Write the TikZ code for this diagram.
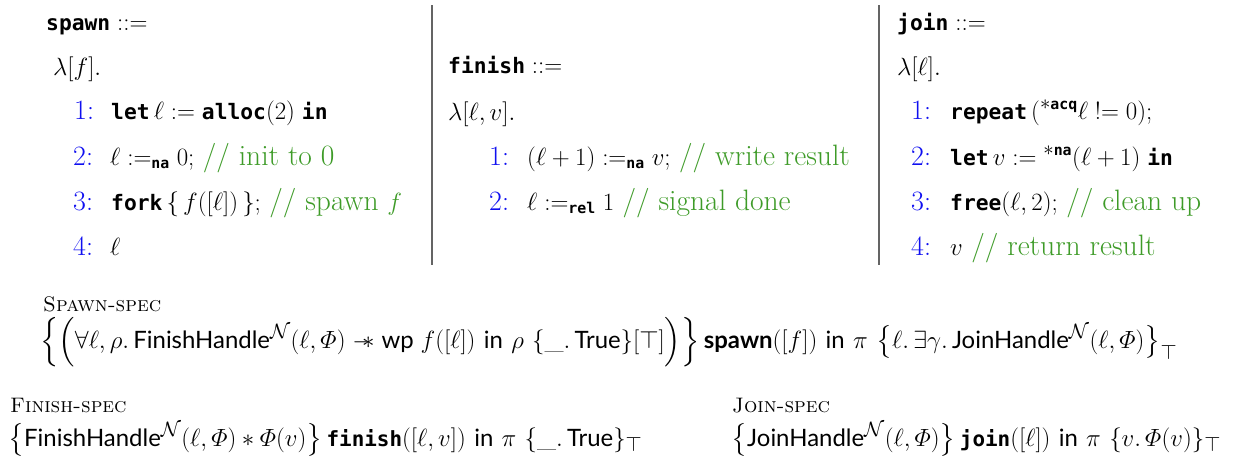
\documentclass[tikz,border=0pt]{standalone}
\usepackage{amsmath,amssymb}
\usepackage{fontspec}
\newfontfamily\kwfont{DejaVu Sans Mono}[Scale=0.76]
\newfontfamily\sffnt{Lato}[Scale=0.87]
\definecolor{cmtgreen}{RGB}{62,155,40}
\definecolor{lnblue}{RGB}{15,15,240}
\definecolor{divgray}{RGB}{100,100,100}
\newcommand\kw[1]{\text{\kwfont\bfseries #1}}
\newcommand\sfx[1]{\text{\sffnt #1}}
\newcommand\bsf[1]{\text{\sffnt\bfseries #1}}
\newcommand\cmt[1]{{\fontsize{29.5}{32}\selectfont\textcolor{cmtgreen}{//~#1}}}
\newcommand\mywand{\mathrel{-\mkern-7mu\ast}}
\begin{document}
\begin{tikzpicture}[x=1pt,y=-1pt,
  code/.style={anchor=base west, inner sep=0pt, font=\fontsize{28}{32}\selectfont},
  num/.style={code, text=lnblue},
  lbl/.style={anchor=base west, inner sep=0pt, font=\fontsize{21}{24}\selectfont},
  spec/.style={anchor=base west, inner sep=0pt, font=\fontsize{27.5}{32}\selectfont},
  divider/.style={draw=divgray, line width=1.4pt}]
\useasboundingbox (0,0) rectangle (1243,461);
% dividers
\coordinate (d1t) at (432,5); \coordinate (d1b) at (432,265);
\coordinate (d2t) at (879,5); \coordinate (d2b) at (879,265);
\draw[divider] (d1t) -- (d1b);
\draw[divider] (d2t) -- (d2b);
% spawn
\node[code] (sh) at (46,30) {$\kw{spawn} ::=$};
\node[code] (sl) at (53,75) {$\lambda[f].$};
\node[num] (s1n) at (74,119) {1:};
\node[code] (s1) at (111,119) {$\kw{let}\,\ell := \kw{alloc}(2)\;\kw{in}$};
\node[num] (s2n) at (73,165) {2:};
\node[code] (s2) at (110,165) {$\ell :=_{\kw{na}} 0;$ \cmt{init to 0}};
\node[num] (s3n) at (73,210) {3:};
\node[code] (s3) at (111,210) {$\kw{fork}\,\{\, f([\ell])\,\};$ \cmt{spawn $f$}};
\node[num] (s4n) at (73,255) {4:};
\node[code] (s4) at (110,255) {$\ell$};
% finish
\node[code] (fh) at (448,73) {$\kw{finish} ::=$};
\node[code] (fl) at (448,120) {$\lambda[\ell, v].$};
\node[num] (f1n) at (489,165) {1:};
\node[code] (f1) at (527,165) {$(\ell+1) :=_{\kw{na}} v;$ \cmt{write result}};
\node[num] (f2n) at (489,210) {2:};
\node[code] (f2) at (527,210) {$\ell :=_{\kw{rel}} 1$ \cmt{signal done}};
% join
\node[code] (jh) at (897,30) {$\kw{join} ::=$};
\node[code] (jl) at (897,75) {$\lambda[\ell].$};
\node[num] (j1n) at (911,119) {1:};
\node[code] (j1) at (950,119) {$\kw{repeat}\,({}^{\ast\kw{acq}}\ell \mathrel{!{=}} 0);$};
\node[num] (j2n) at (911,165) {2:};
\node[code] (j2) at (950,165) {$\kw{let}\,v := {}^{\ast\kw{na}}(\ell+1)\;\kw{in}$};
\node[num] (j3n) at (911,210) {3:};
\node[code] (j3) at (950,210) {$\kw{free}(\ell, 2);$ \cmt{clean up}};
\node[num] (j4n) at (911,255) {4:};
\node[code] (j4) at (950,255) {$v$ \cmt{return result}};
% specs
\node[lbl] (spl) at (43,311) {\textsc{Spawn-spec}};
\node[spec] (sps) at (40,348) {$\Bigl\{\Bigl(\forall \ell,\rho.\, \sfx{FinishHandle}^{\mathcal{N}}(\ell,\varPhi) \mywand \sfx{wp}\; f([\ell])\ \sfx{in}\ \rho\ \{\_.\,\sfx{True}\}[\top]\Bigr)\Bigr\}\,\bsf{spawn}([f])\ \sfx{in}\ \pi\ \bigl\{\ell.\,\exists\gamma.\,\sfx{JoinHandle}^{\mathcal{N}}(\ell,\varPhi)\bigr\}_{\top}$};
\node[lbl] (fil) at (10,412) {\textsc{Finish-spec}};
\node[spec] (fis) at (8,446) {$\bigl\{\sfx{FinishHandle}^{\mathcal{N}}(\ell,\varPhi) \ast \varPhi(v)\bigr\}\,\kw{finish}([\ell,v])\ \sfx{in}\ \pi\ \{\_.\,\sfx{True}\}_{\top}$};
\node[lbl] (jol) at (732,412) {\textsc{Join-spec}};
\node[spec] (jos) at (731,446) {$\bigl\{\sfx{JoinHandle}^{\mathcal{N}}(\ell,\varPhi)\bigr\}\,\kw{join}([\ell])\ \sfx{in}\ \pi\ \{v.\,\varPhi(v)\}_{\top}$};
\end{tikzpicture}
\end{document}
